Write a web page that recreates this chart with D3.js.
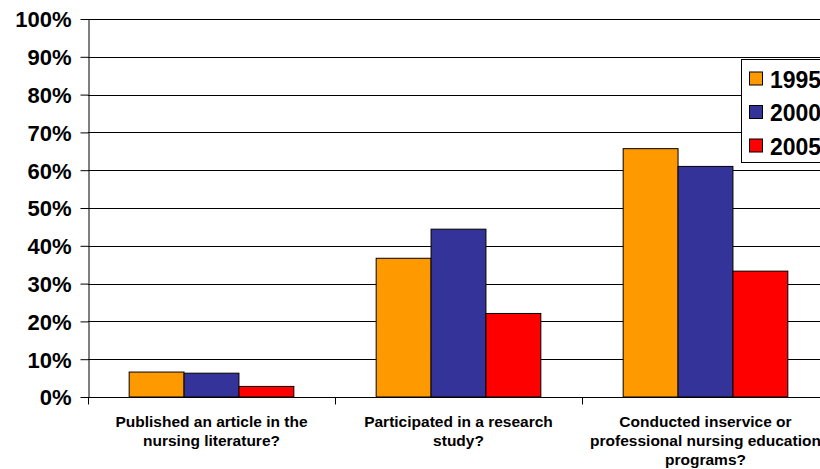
<!DOCTYPE html>
<html><head><meta charset="utf-8">
<script src="https://cdn.jsdelivr.net/npm/d3@7"></script>
<style>body{margin:0;background:#fff;overflow:hidden}svg{display:block}text{font-family:Arial,"Liberation Sans",sans-serif;font-weight:bold}</style>
</head><body>
<script>
const categories = [
  ["Published an article in the", "nursing literature?"],
  ["Participated in a research", "study?"],
  ["Conducted inservice or", "professional nursing education", "programs?"]
];
const seriesNames = ["1995", "2000", "2005"];
const values1995 = [0.066, 0.367, 0.657];
const values2000 = [0.063, 0.444, 0.610];
const values2005 = [0.028, 0.221, 0.333];
const yTicks = [0,0.1,0.2,0.3,0.4,0.5,0.6,0.7,0.8,0.9,1.0];
const colors = ["#FF9900", "#333399", "#FF0000"];

const W = 820, H = 469;
const m = {left: 88, top: 19, right: 829, bottom: 397};
const svg = d3.select("body").append("svg").attr("width", W).attr("height", H);

const x = d3.scaleBand().domain(d3.range(categories.length)).range([m.left, m.right]).paddingInner(0).paddingOuter(0);
const xs = d3.scaleBand().domain(d3.range(seriesNames.length)).range([0, x.bandwidth()]).paddingInner(0).paddingOuter(0.75);
const y = d3.scaleLinear().domain([0, 1]).range([m.bottom, m.top]);

// gridlines
svg.append("g").selectAll("line").data(yTicks.slice(1)).join("line")
  .attr("x1", m.left).attr("x2", m.right)
  .attr("y1", d => Math.round(y(d)) + 0.5).attr("y2", d => Math.round(y(d)) + 0.5)
  .attr("stroke", "#000").attr("stroke-width", 1);

// bars
const series = [values1995, values2000, values2005];
series.forEach((vals, si) => {
  svg.append("g").selectAll("rect").data(vals).join("rect")
    .attr("x", (d, i) => x(i) + xs(si))
    .attr("width", xs.bandwidth())
    .attr("y", d => y(d))
    .attr("height", d => y(0) - y(d))
    .attr("fill", colors[si]).attr("stroke", "#000").attr("stroke-width", 1);
});

// y axis
const yAxis = d3.axisLeft(y).tickValues(yTicks).tickFormat(d3.format(".0%")).tickSizeInner(8).tickSizeOuter(0).tickPadding(9);
const ya = svg.append("g").attr("transform", `translate(${m.left + 0.5},0)`).call(yAxis);
ya.select(".domain").attr("stroke", "#000");
ya.selectAll("text").attr("font-size", 22).attr("fill", "#000").attr("dy", "0.36em");

// x axis
const xa = svg.append("g").attr("transform", `translate(0,${m.bottom + 0.5})`);
xa.append("line").attr("x1", m.left).attr("x2", m.right).attr("stroke", "#000");
xa.selectAll("line.t").data(d3.range(categories.length + 1)).join("line").attr("class", "t")
  .attr("x1", i => Math.round(m.left + i * x.bandwidth()) + 0.5)
  .attr("x2", i => Math.round(m.left + i * x.bandwidth()) + 0.5)
  .attr("y1", 0).attr("y2", 7).attr("stroke", "#000");
categories.forEach((lines, i) => {
  const t = xa.append("text").attr("text-anchor", "middle").attr("font-size", 15.5)
    .attr("x", x(i) + x.bandwidth() / 2).attr("y", 29);
  lines.forEach((l, j) => t.append("tspan").attr("x", x(i) + x.bandwidth() / 2).attr("dy", j === 0 ? 0 : 19).text(l));
});

// legend
const lg = svg.append("g").attr("transform", "translate(741.5,59.5)");
lg.append("rect").attr("width", 110).attr("height", 103).attr("fill", "#fff").attr("stroke", "#000");
seriesNames.forEach((n, i) => {
  const cy = 19 + i * 33.5;
  lg.append("rect").attr("x", 8).attr("y", cy - 6.5).attr("width", 13).attr("height", 13)
    .attr("fill", colors[i]).attr("stroke", "#000");
  lg.append("text").attr("x", 28.5).attr("y", cy + 1).attr("dy", "0.36em").attr("font-size", 23).text(n);
});
</script>
</body></html>
